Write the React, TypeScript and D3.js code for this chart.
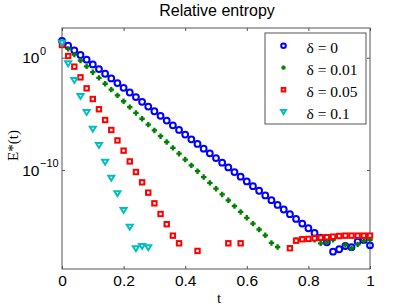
import React, { useEffect, useRef } from 'react'
import * as d3 from 'd3'

// t grid shared by all series (0 .. 1 in steps of 0.02)
const tValues = d3.range(51).map(i => i / 50)

// log10 of E*(t); null = no point drawn
const blueExp = [
  1.49, 1.07, 0.66, 0.24, -0.18, -0.6, -1.01, -1.43, -1.85, -2.26,
  -2.68, -3.1, -3.51, -3.93, -4.35, -4.77, -5.18, -5.6, -6.02, -6.43,
  -6.85, -7.27, -7.68, -8.1, -8.52, -8.94, -9.35, -9.77, -10.19, -10.6,
  -11.02, -11.44, -11.85, -12.27, -12.69, -13.11, -13.52, -13.94, -14.36, -14.77,
  -15.19, -15.61, -16.02, -16.44, -17.28, -17.06, -16.77, -16.88, -16.38, -16.23,
  -16.71
]
const greenExp = [
  1.31, 0.79, 0.27, -0.25, -0.77, -1.29, -1.8, -2.32, -2.84, -3.36,
  -3.88, -4.4, -4.92, -5.44, -5.96, -6.48, -6.99, -7.51, -8.03, -8.55,
  -9.07, -9.59, -10.11, -10.63, -11.15, -11.67, -12.18, -12.7, -13.22, -13.74,
  -14.26, -14.78, -15.3, -15.82, -16.5, -16.86, null, null, -16.23, -16.14,
  -16.17, -16.23, -16.53, -16.44, -16.23, -15.94, -16.68, -16.97, -16.63, -16.32,
  -16.23
]
const redExp = [
  1.13, 0.15, -0.8, -1.75, -2.73, -3.68, -4.59, -5.55, -6.44, -7.37,
  -8.28, -9.24, -10.18, -11.1, -12.02, -12.97, -13.92, -14.83, -15.85, -16.53,
  null, null, -17.21, null, null, null, null, -16.53, null, -16.53,
  null, null, null, null, null, null, null, -16.97, -16.3, -16.17,
  -16.14, -16.08, -16.03, -15.99, -15.94, -15.88, -15.85, -15.85, -15.85, -15.85,
  -15.85
]
const cyanExp = [
  1.34, -0.5, -1.99, -3.41, -4.84, -6.32, -7.77, -9.26, -10.69, -12.07,
  -13.56, -15.05, -16.97, -16.77, -16.88
]

const legendLabels = ['δ = 0', 'δ = 0.01', 'δ = 0.05', 'δ = 0.1']
const xTicks = [0, 0.2, 0.4, 0.6, 0.8, 1]
const yTickExps = [0, -10]

const W = 409
const H = 308

export default function App() {
  const ref = useRef<SVGSVGElement>(null)

  useEffect(() => {
    const svg = d3.select(ref.current)
    svg.selectAll('*').remove()

    const margin = { left: 62, right: 39, top: 28, bottom: 39 }
    const x0 = margin.left
    const x1 = W - margin.right
    const y0 = margin.top
    const y1 = H - margin.bottom

    const x = d3.scaleLinear().domain([0, 1]).range([x0, x1])
    const y = d3.scaleLog().domain([Math.pow(10, -18.82), Math.pow(10, 2.645)]).range([y1, y0])

    const axisColor = '#555'
    const sans = 'Liberation Sans, Arial, Helvetica, sans-serif'
    const serif = 'Liberation Serif, Times New Roman, serif'

    // frame
    svg.append('rect')
      .attr('x', x0).attr('y', y0)
      .attr('width', x1 - x0).attr('height', y1 - y0)
      .attr('fill', 'white').attr('stroke', axisColor).attr('stroke-width', 1)

    // X-axis (bottom, with labels)
    const xb = svg.append('g')
      .attr('transform', `translate(0, ${y1})`)
      .call(d3.axisBottom(x).tickValues(xTicks).tickSizeInner(-3).tickSizeOuter(0).tickPadding(6)
        .tickFormat(d => String(d)))
    xb.select('.domain').remove()
    xb.selectAll('line').attr('stroke', axisColor)
    xb.selectAll('text').attr('font-family', sans).attr('font-size', '15.5px').attr('fill', 'black')

    // top ticks
    const xt = svg.append('g')
      .attr('transform', `translate(0, ${y0})`)
      .call(d3.axisTop(x).tickValues(xTicks).tickSizeInner(-3).tickSizeOuter(0).tickFormat(() => ''))
    xt.select('.domain').remove()
    xt.selectAll('line').attr('stroke', axisColor)

    // Y-axis ticks left and right
    const yTickVals = yTickExps.map(e => Math.pow(10, e))
    const yl = svg.append('g')
      .attr('transform', `translate(${x0}, 0)`)
      .call(d3.axisLeft(y).tickValues(yTickVals).tickSizeInner(-3).tickSizeOuter(0).tickFormat(() => ''))
    yl.select('.domain').remove()
    yl.selectAll('line').attr('stroke', axisColor)
    const yr = svg.append('g')
      .attr('transform', `translate(${x1}, 0)`)
      .call(d3.axisRight(y).tickValues(yTickVals).tickSizeInner(-3).tickSizeOuter(0).tickFormat(() => ''))
    yr.select('.domain').remove()
    yr.selectAll('line').attr('stroke', axisColor)

    // Y tick labels 10^e
    yTickExps.forEach(e => {
      const py = y(Math.pow(10, e))
      svg.append('text')
        .attr('x', 39.5).attr('y', py + 5.8)
        .attr('text-anchor', 'end')
        .attr('font-family', sans).attr('font-size', '15.5px')
        .text('10')
      svg.append('text')
        .attr('x', 40).attr('y', py - 2.5)
        .attr('font-family', sans).attr('font-size', '11px')
        .text(e < 0 ? '\u2212' + String(-e) : String(e))
    })

    // Title
    svg.append('text')
      .attr('x', (x0 + x1) / 2 + 1).attr('y', 16)
      .attr('text-anchor', 'middle')
      .attr('font-family', sans).attr('font-size', '16px')
      .text('Relative entropy')

    // X Label
    svg.append('text')
      .attr('x', (x0 + x1) / 2 + 3).attr('y', 303)
      .attr('text-anchor', 'middle')
      .attr('font-family', serif).attr('font-size', '15px')
      .text('t')

    // Y Label
    svg.append('text')
      .attr('transform', `translate(18, ${(y0 + y1) / 2 - 3}) rotate(-90)`)
      .attr('text-anchor', 'middle')
      .attr('font-family', serif).attr('font-size', '15px')
      .text('E*(t)')

    // markers
    const drawMarker = (g: any, kind: number, s: number) => {
      if (kind === 0) {
        g.append('circle').attr('r', 2.9 * s)
          .attr('fill', 'none').attr('stroke', '#0000ff').attr('stroke-width', 2)
      } else if (kind === 1) {
        const h = 2.7 * s
        g.append('path').attr('d', `M${-h},0H${h}M0,${-h}V${h}`)
          .attr('fill', 'none').attr('stroke', '#008000').attr('stroke-width', 2.3)
      } else if (kind === 2) {
        const h = 2.2 * s
        g.append('rect').attr('x', -h).attr('y', -h).attr('width', 2 * h).attr('height', 2 * h)
          .attr('fill', 'white').attr('stroke', '#ff0000').attr('stroke-width', 2)
      } else {
        const w = 3 * s
        g.append('path').attr('d', `M${-w},${-2 * s}L${w},${-2 * s}L0,${2.9 * s}Z`)
          .attr('fill', 'white').attr('stroke', '#00bfbf').attr('stroke-width', 2)
          .attr('stroke-linejoin', 'miter')
      }
    }

    const series = [blueExp, greenExp, redExp, cyanExp]
    const plot = svg.append('g')
    series.forEach((vals, k) => {
      vals.forEach((e, i) => {
        if (e === null || e === undefined) return
        const g = plot.append('g')
          .attr('transform', `translate(${x(tValues[i])}, ${y(Math.pow(10, e))})`)
        drawMarker(g, k, 1)
      })
    })

    // Legend
    const lg = svg.append('g')
    lg.append('rect')
      .attr('x', 265).attr('y', 33).attr('width', 101).attr('height', 91)
      .attr('fill', 'white').attr('stroke', axisColor).attr('stroke-width', 1)
    legendLabels.forEach((label, k) => {
      const cy = 45.7 + k * 22
      const g = lg.append('g').attr('transform', `translate(283.5, ${cy})`)
      drawMarker(g, k, 0.8)
      lg.append('text')
        .attr('x', 306.5).attr('y', cy + 7)
        .attr('font-family', serif).attr('font-size', '15.5px')
        .text(label)
    })
  }, [])

  return (
    <svg ref={ref} width={W} height={H}
      style={{ position: 'absolute', left: 0, top: 0, background: 'white' }} />
  )
}
